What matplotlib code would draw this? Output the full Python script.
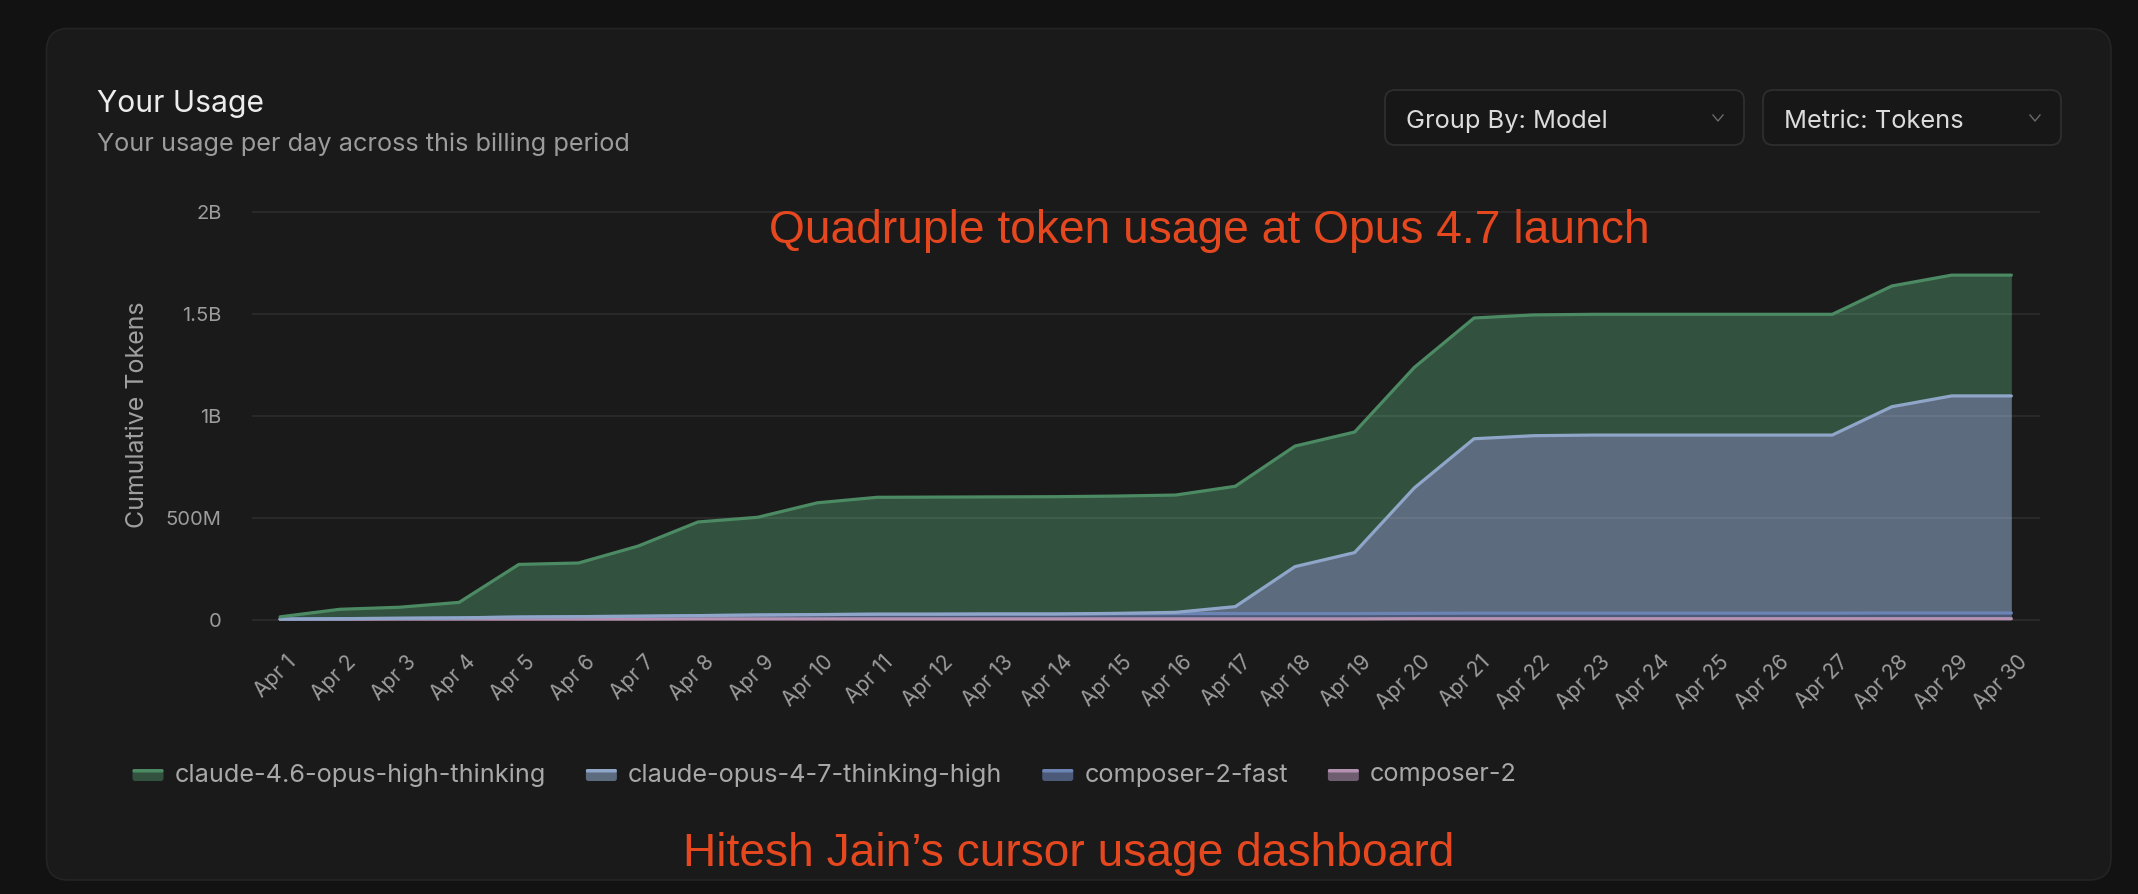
import matplotlib
matplotlib.use("Agg")
import matplotlib.pyplot as plt
import matplotlib.transforms as mtransforms
from matplotlib.patches import FancyBboxPatch
from matplotlib.lines import Line2D
import numpy as np

# --- CONFIG ---
W, H, DPI = 2138, 894, 100
PAGE_BG = '#121212'
CARD_BG = '#1a1a1a'
UI_FONT = ['Inter', 'DejaVu Sans']
NOTE_FONT = ['Liberation Sans', 'DejaVu Sans']
NOTE_COLOR = '#e5481f'
# ----------------

# --- DATA (cumulative tokens per model, millions) ---
days = [f'Apr {d}' for d in range(1, 31)]
composer_2 = [2, 2, 3, 3, 3, 3, 3, 4, 4, 4, 4, 4, 4, 4, 4,
              4, 4, 4, 4, 5, 5, 5, 5, 5, 5, 5, 5, 5, 5, 5]
composer_2_fast = [1, 3, 4, 6, 10, 12, 14, 16, 19, 21, 23, 23, 24, 24, 25,
                   26, 26, 26, 26, 26, 27, 27, 27, 27, 27, 27, 27, 28, 28, 28]
opus_4_7 = [0, 0, 0, 0, 0, 0, 0, 0, 0, 0, 0, 0, 0, 0, 2,
            6, 34, 230, 299, 615, 855, 870, 873, 873, 873, 873, 873, 1011, 1064, 1064]
opus_4_6 = [11, 46, 54, 76, 258, 263, 344, 459, 479, 548, 573, 574, 574, 575, 575,
            575, 590, 591, 591, 591, 592, 592, 592, 592, 592, 592, 592, 592, 592, 592]

series_names = ['composer-2', 'composer-2-fast',
                'claude-opus-4-7-thinking-high', 'claude-4.6-opus-high-thinking']
series_values = [composer_2, composer_2_fast, opus_4_7, opus_4_6]
line_colors = ['#b592b1', '#6b84b3', '#8fa6c9', '#4c8a63']
fill_colors = ['#6f5d70', '#4b5a78', '#5d6b7e', '#32523f']

y_ticks = [0, 500, 1000, 1500, 2000]
y_tick_labels = ['0', '500M', '1B', '1.5B', '2B']

# --- FIGURE ---
fig = plt.figure(figsize=(W / DPI, H / DPI), dpi=DPI, facecolor=PAGE_BG)
px = mtransforms.IdentityTransform()


def top(y):
    # pixel row (from top) -> display y (from bottom)
    return H - y


# card
fig.patches.append(FancyBboxPatch((46.5, top(880)), 2111 - 46.5, 880 - 28.5,
                                  boxstyle='round,pad=0,rounding_size=22',
                                  fc=CARD_BG, ec='#242424', lw=1.2,
                                  transform=px, zorder=-10))

# header
fig.text(97, top(111.5), 'Your Usage', transform=px, fontsize=21.6,
         color='#ececec', family=UI_FONT, va='baseline')
fig.text(97, top(151.5), 'Your usage per day across this billing period',
         transform=px, fontsize=18.2, color='#9c9c9c', family=UI_FONT, va='baseline')

# dropdowns
for (x0, x1, label) in [(1385, 1744, 'Group By: Model'), (1763, 2061, 'Metric: Tokens')]:
    fig.patches.append(FancyBboxPatch((x0, top(145)), x1 - x0, 145 - 90,
                                      boxstyle='round,pad=0,rounding_size=10',
                                      fc='#171717', ec='#2e2e2e', lw=1.3,
                                      transform=px, zorder=-5))
    fig.text(x0 + 21, top(128), label, transform=px, fontsize=18.3,
             color='#dcdcdc', family=UI_FONT, va='baseline')
    cx = x1 - 26
    fig.lines.append(Line2D([cx - 5, cx, cx + 5], [top(115), top(121), top(115)],
                            transform=px, color='#6a6a6a', lw=1.0))

# --- AXES ---
y_lo, y_hi = -20, 2020
pix_per_m = (619.7 - 211.7) / 2000
ax_bottom = 619.7 + 20 * pix_per_m
ax_top = 211.7 - 20 * pix_per_m
ax = fig.add_axes([252 / W, 1 - ax_bottom / H, (2040 - 252) / W, (ax_bottom - ax_top) / H])
ax.set_facecolor('none')
ax.set_xlim(-0.47, 29.48)
ax.set_ylim(y_lo, y_hi)

x = np.arange(len(days))
base = np.zeros(len(days))
for vals, lc, fc in zip(series_values, line_colors, fill_colors):
    upper = base + np.array(vals)
    ax.fill_between(x, base, upper, color=fc, lw=0, zorder=2)
    ax.plot(x, upper, color=lc, lw=2.3, solid_joinstyle='round',
            solid_capstyle='round', zorder=4)
    base = upper

for t in y_ticks:
    ax.axhline(t, color='white', alpha=0.075, lw=1.3, zorder=3)

for s in ax.spines.values():
    s.set_visible(False)

ax.set_yticks(y_ticks)
ax.set_yticklabels(y_tick_labels, family=UI_FONT)
ax.tick_params(axis='y', length=0, pad=22, labelsize=14.5, labelcolor='#9c9c9c')
ax.set_xticks(x)
ax.set_xticklabels(days, rotation=45, ha='right', va='top',
                   rotation_mode='anchor', family=UI_FONT)
ax.tick_params(axis='x', length=0, pad=20, labelsize=15, labelcolor='#9c9c9c')
shift = mtransforms.ScaledTranslation(0.06, 0, fig.dpi_scale_trans)
for lab in ax.get_xticklabels():
    lab.set_transform(lab.get_transform() + shift)

fig.text(137, top(415), 'Cumulative Tokens', transform=px, rotation=90,
         fontsize=18, color='#a0a0a0', family=UI_FONT, ha='center', va='center')

# --- LEGEND (drawn left to right, top-down order of the stack) ---
renderer = fig.canvas.get_renderer()
lx = 132.5
for i in [3, 2, 1, 0]:
    fig.patches.append(FancyBboxPatch((lx, top(781)), 31, 12,
                                      boxstyle='round,pad=0,rounding_size=2.5',
                                      fc=fill_colors[i], ec='none', transform=px, zorder=2))
    fig.patches.append(FancyBboxPatch((lx, top(772.5)), 31, 3.5,
                                      boxstyle='round,pad=0,rounding_size=1.5',
                                      fc=line_colors[i], ec='none', transform=px, zorder=3))
    t = fig.text(lx + 42, top(775), series_names[i], transform=px, fontsize=18.2,
                 color='#a8a8a8', family=UI_FONT, va='center')
    lx = t.get_window_extent(renderer).x1 + 40

# --- ANNOTATIONS ---
fig.text(1209, top(243), 'Quadruple token usage at Opus 4.7 launch', transform=px,
         fontsize=33.2, color=NOTE_COLOR, family=NOTE_FONT, ha='center', va='baseline')
fig.text(1069, top(866.5), 'Hitesh Jain\u2019s cursor usage dashboard', transform=px,
         fontsize=33.2, color=NOTE_COLOR, family=NOTE_FONT, ha='center', va='baseline')

fig.savefig('out.png', dpi=DPI, facecolor=PAGE_BG)
